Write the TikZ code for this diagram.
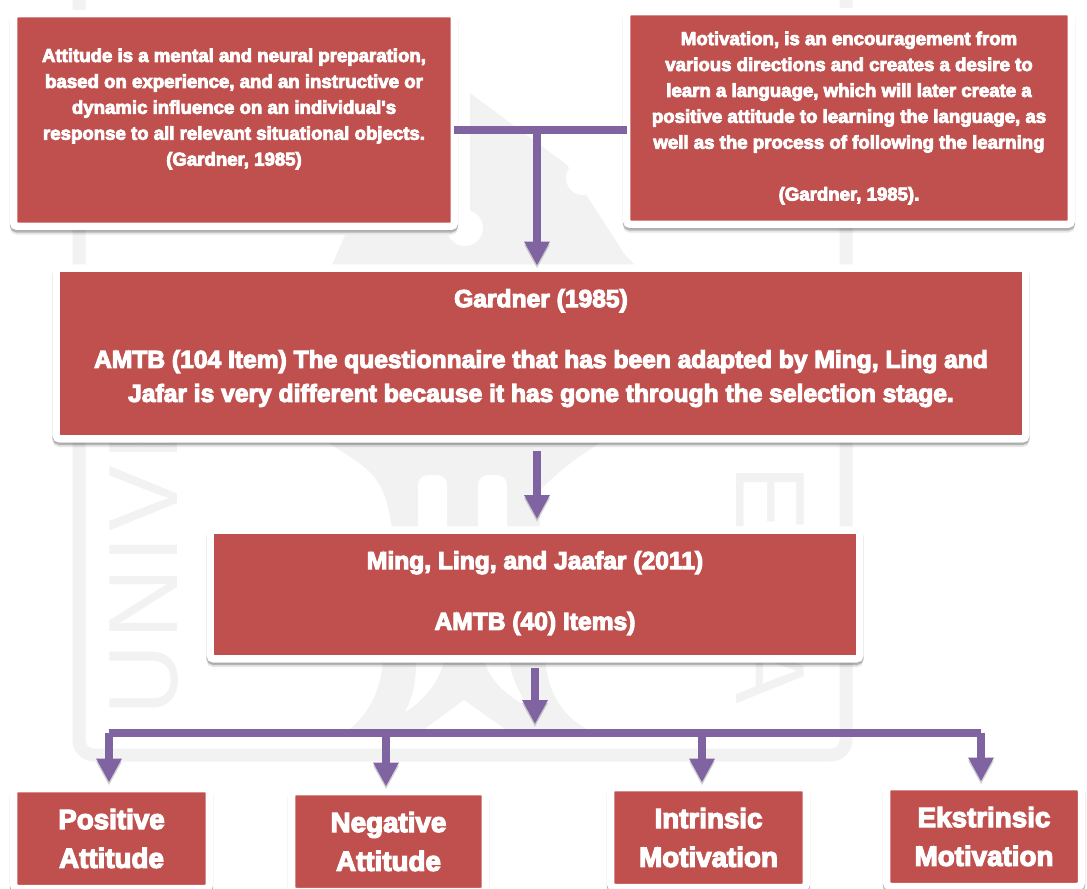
\documentclass[tikz,border=0pt]{standalone}
\usepackage{fontspec}
\setmainfont{Liberation Sans}[BoldFeatures={FakeBold=4.5}]
\usetikzlibrary{arrows.meta,shadows,calc}
\definecolor{boxred}{HTML}{C0504D}
\definecolor{linkpurple}{HTML}{8064A2}
\definecolor{markgray}{HTML}{F2F2F2}
\tikzset{
	redbox/.style={fill=boxred,draw=white,line width=0.15cm,rounded corners=0.08cm,align=center,text=white,font=\bfseries,inner sep=0pt,outer sep=0pt,
		drop shadow={shadow xshift=0cm,shadow yshift=-0.09cm,opacity=0.1,fill=black,draw=black},
		drop shadow={shadow xshift=0cm,shadow yshift=-0.05cm,opacity=0.22,fill=black,draw=black}},
	smalltext/.style={font=\fontsize{10.6}{14.75}\selectfont\bfseries},
	midtext/.style={font=\fontsize{14}{19.3}\selectfont\bfseries},
	bigtext/.style={font=\fontsize{15.8}{22.1}\selectfont\bfseries},
	linkbar/.style={draw=linkpurple,line width=0.16cm,preaction={draw=black,draw opacity=0.18,transform canvas={yshift=-0.06cm}}},
	linkarrow/.style={linkbar,-{Triangle[width=0.48cm,length=0.48cm]}},
	markletter/.style={text=markgray,font=\fontsize{56}{56}\selectfont\addfontfeature{LetterSpace=5},inner sep=0pt},
}
\begin{document}
\begin{tikzpicture}[x=0.02cm,y=0.02cm]
	\useasboundingbox (0,0) rectangle (1087,-888);
	% faint mark behind the boxes
	\draw [markgray,line width=0.26cm,rounded corners=0.3cm] (79,0) -- (79,-755) -- (846,-755) -- (846,0);
	\fill [markgray] (470,-93) -- (567,-165) -- (625,-255) -- (640,-270) -- (330,-270) -- (345,-235) -- (470,-235) -- cycle;
	\fill [white] (465,-228) circle (18) (583,-178) circle (17);
	\fill [markgray] (329,-443) .. controls (370,-470) and (385,-475) .. (392,-530) -- (540,-530) -- (540,-490) .. controls (560,-470) and (580,-455) .. (600,-443) -- cycle;
	\fill [white,rounded corners=0.2cm] (418,-540) rectangle (447,-475) (478,-540) rectangle (507,-475);
	\fill [markgray] (383,-660) .. controls (380,-700) and (360,-725) .. (340,-735) -- (600,-735) .. controls (560,-720) and (548,-690) .. (545,-660) -- cycle;
	\fill [white] (416,-660) -- (444,-660) .. controls (440,-680) and (425,-700) .. (405,-712) .. controls (414,-695) and (416,-680) .. (416,-660);
	\fill [white] (484,-660) -- (509,-660) .. controls (512,-680) and (520,-695) .. (530,-708) .. controls (505,-695) and (490,-680) .. (484,-660);
	\fill [white] (464,-700) -- (520,-740) -- (410,-740) -- cycle;
	\node [markletter,rotate=90] (markuniv) at (144,-555) {UNIVE};
	\node [markletter,rotate=-90] (markesia) at (770,-585) {ESIA};
	\node [redbox,smalltext,minimum width=8.82cm,minimum height=4.26cm] (attitude) at (234,-120) {Attitude is a mental and neural preparation,\\based on experience, and an instructive or\\dynamic influence on an individual\textquotesingle s\\response to all relevant situational objects.\\(Gardner, 1985)\\~};
	\node [redbox,smalltext,minimum width=8.90cm,minimum height=4.26cm] (motivation) at (849,-118) {Motivation, is an encouragement from\\various directions and creates a desire to\\learn a language, which will later create a\\positive attitude to learning the language, as\\well as the process of following the learning\\~\\(Gardner, 1985).};
	\node [redbox,midtext,minimum width=19.40cm,minimum height=3.42cm] (gardner) at (541,-353.5) {Gardner (1985)\\[-0.14cm]~\\AMTB (104 Item) The questionnaire that has been adapted by Ming, Ling and\\Jafar is very different because it has gone through the selection stage.\\[-0.36cm]~};
	\node [redbox,midtext,minimum width=13.00cm,minimum height=2.58cm] (ming) at (535,-594.5) {Ming, Ling, and Jaafar (2011)\\[-0.14cm]~\\AMTB (40) Items)\\[-0.52cm]~};
	\node [redbox,bigtext,minimum width=3.92cm,minimum height=2.0cm] (positive) at (111.5,-838.5) {Positive\\Attitude};
	\node [redbox,bigtext,minimum width=3.88cm,minimum height=2.0cm] (negative) at (388.5,-841.5) {Negative\\Attitude};
	\node [redbox,bigtext,minimum width=3.92cm,minimum height=2.0cm] (intrinsic) at (708.5,-837.5) {Intrinsic\\Motivation};
	\node [redbox,bigtext,minimum width=3.90cm,minimum height=2.0cm] (ekstrinsic) at (984,-836.5) {Ekstrinsic\\Motivation};
	\coordinate (tbar) at (537,-130);
	\coordinate (gardnerout) at (537,-451);
	\coordinate (mingout) at (535,-668);
	\coordinate (split) at (535,-729);
	\draw [linkbar] (attitude.east |- tbar) -- (motivation.west |- tbar);
	\draw [linkarrow,shorten >=0.05cm] (tbar) -- (tbar |- gardner.north);
	\draw [linkarrow,shorten >=0.22cm] (gardnerout) -- (gardnerout |- ming.north);
	\draw [linkarrow,shorten >=0.1cm] (mingout) -- (split);
	\coordinate (dropa) at (109,-733);
	\coordinate (dropb) at (386,-733);
	\coordinate (dropc) at (702,-733);
	\coordinate (dropd) at (981,-733);
	\draw [linkbar,line cap=square] (dropa) -- (dropd);
	\draw [linkarrow,shorten >=0.12cm] (dropa) -- (dropa |- positive.north);
	\draw [linkarrow,shorten >=0.1cm] (dropb) -- (dropb |- negative.north);
	\draw [linkarrow,shorten >=0.1cm] (dropc) -- (dropc |- intrinsic.north);
	\draw [linkarrow,shorten >=0.1cm] (dropd) -- (dropd |- ekstrinsic.north);
\end{tikzpicture}
\end{document}
